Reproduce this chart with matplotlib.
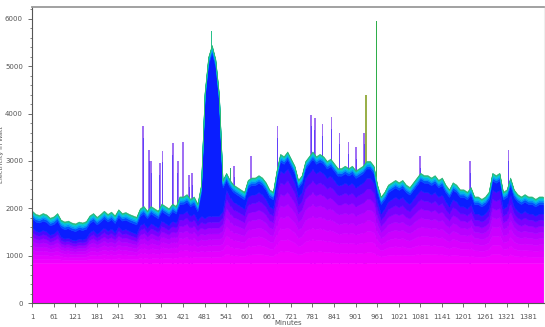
import matplotlib
matplotlib.use("Agg")
import matplotlib.pyplot as plt
import numpy as np

# minute of the day, sampled every 10 minutes
minute = np.arange(1, 1441, 10)

# household load (top of the stack) in Watt
household = [
    1950, 1880, 1860, 1900, 1870, 1800, 1830, 1900, 1760, 1720,
    1740, 1700, 1680, 1720, 1700, 1730, 1850, 1900, 1820, 1880,
    1950, 1880, 1930, 1850, 1980, 1900, 1920, 1880, 1850, 1820,
    2000, 2050, 1950, 2050, 2000, 1950, 2100, 2050, 2000, 2100,
    2050, 2250, 2250, 2300, 2200, 2250, 2100, 2200, 2150, 2200,
    2200, 2200, 2200, 2300, 2750, 2600, 2500, 2450, 2400, 2350,
    2600, 2650, 2650, 2700, 2650, 2550, 2400, 2350, 2800, 3150,
    3100, 3200, 3050, 2900, 2600, 2700, 3000, 3100, 3200, 3100,
    3150, 3100, 3000, 3050, 2950, 2850, 2850, 2900, 2850, 2900,
    2800, 2850, 2900, 3000, 3000, 2900, 2500, 2250, 2350, 2500,
    2550, 2600, 2550, 2600, 2500, 2450, 2550, 2650, 2750, 2700,
    2700, 2650, 2700, 2600, 2650, 2500, 2400, 2550, 2500, 2400,
    2400, 2350, 2450, 2250, 2250, 2200, 2250, 2350, 2750, 2700,
    2750, 2350, 2400, 2650, 2400, 2300, 2250, 2300, 2250, 2250,
    2200, 2250, 2250, 2200,
]

# extra load of the big consumer around minute 500
heater = np.zeros(len(minute))
heater_min = [471, 481, 491, 501, 511, 521, 531]
heater_val = [300, 2300, 3000, 3250, 2950, 2200, 300]

# short spikes
spike_min = [310, 327, 333, 356, 364, 393, 406, 421, 438, 447, 500, 553, 563,
             610, 684, 778, 787, 809, 834, 856, 881, 903, 925, 931, 959,
             1081, 1220, 1326]
spike_val = [3730, 3240, 3000, 2950, 3220, 3370, 3000, 3390, 2700, 2750, 5750,
             2850, 2900, 3100, 3730, 3980, 3900, 3770, 3920, 3600, 3390, 3300,
             3600, 4400, 5950, 3100, 2990, 3240]
green_spikes = [500, 553, 931, 959]
spike_col = ['#a070f4'] * len(spike_min)
spike_col[spike_min.index(500)] = '#29c08a'
spike_col[spike_min.index(553)] = '#30b070'
spike_col[spike_min.index(931)] = '#9ab04a'
spike_col[spike_min.index(959)] = '#2fae4a'

base_load = 850

for m, v in zip(heater_min, heater_val):
    heater[list(minute).index(m)] = v
household = np.array(household, dtype=float)

fig = plt.figure(figsize=(5.45, 3.27), dpi=100)
ax = fig.add_axes([32 / 545, 24 / 327, 512 / 545, 296 / 327])

# spikes go behind the stack, only their tips stick out
ax.bar(spike_min, spike_val, width=5, color=spike_col, zorder=1, linewidth=0)
core_min = [m for m in spike_min if m not in green_spikes]
core_val = [v - 250 for m, v in zip(spike_min, spike_val) if m not in green_spikes]
ax.bar(core_min, core_val, width=2.5, color='#3a20ff', alpha=0.6, zorder=1, linewidth=0)

# colour bands from bottom (magenta) to top (green)
violet_cols = ['#f000ff', '#e400ff', '#d800ff', '#ca00ff', '#b800ff',
               '#a000ff', '#7a00ff', '#4a08ff']
violet_top = household - 360
lower = np.zeros(len(minute))
ax.fill_between(minute, lower, base_load, color='#ff00ff', lw=0.4, ec='#ff00ff', zorder=2)
lower = np.full(len(minute), base_load, dtype=float)
step = (violet_top - base_load) / len(violet_cols)
for c in violet_cols:
    upper = lower + step
    ax.fill_between(minute, lower, upper, color=c, lw=0.4, ec=c, zorder=2)
    lower = upper
bands = [('#0a1eff', 200 + heater), ('#0050ff', 50), ('#0090f8', 35),
         ('#00b8e8', 30), ('#00d0c8', 25), ('#2ab87a', 20)]
for c, width in bands:
    upper = lower + width
    ax.fill_between(minute, lower, upper, color=c, lw=0.4, ec=c, zorder=2)
    lower = upper

ax.set_xlim(1, 1425)
ax.set_ylim(0, 6250)
ax.set_xticks(np.arange(1, 1441, 60))
ax.set_yticks(np.arange(0, 6001, 1000))
ax.set_yticks(np.arange(0, 6250, 200), minor=True)
ax.tick_params(labelsize=5, colors='#555555', length=3, width=0.6)
ax.tick_params(which='minor', length=1.5, width=0.5, colors='#555555')
ax.tick_params(axis='x', pad=5)

for side in ['left', 'bottom']:
    ax.spines[side].set_color('#555555')
    ax.spines[side].set_linewidth(0.8)
ax.spines['top'].set_color('#9a9a9a')
ax.spines['top'].set_linewidth(1.3)
ax.spines['right'].set_color('#eeeeee')

ax.set_ylabel('Electricity in Watt', fontsize=4.6, color='#555555')
ax.yaxis.set_label_coords(-0.054, 0.5)
ax.set_xlabel('Minutes', fontsize=5, color='#555555', labelpad=0)

fig.savefig('out.png', dpi=100)
